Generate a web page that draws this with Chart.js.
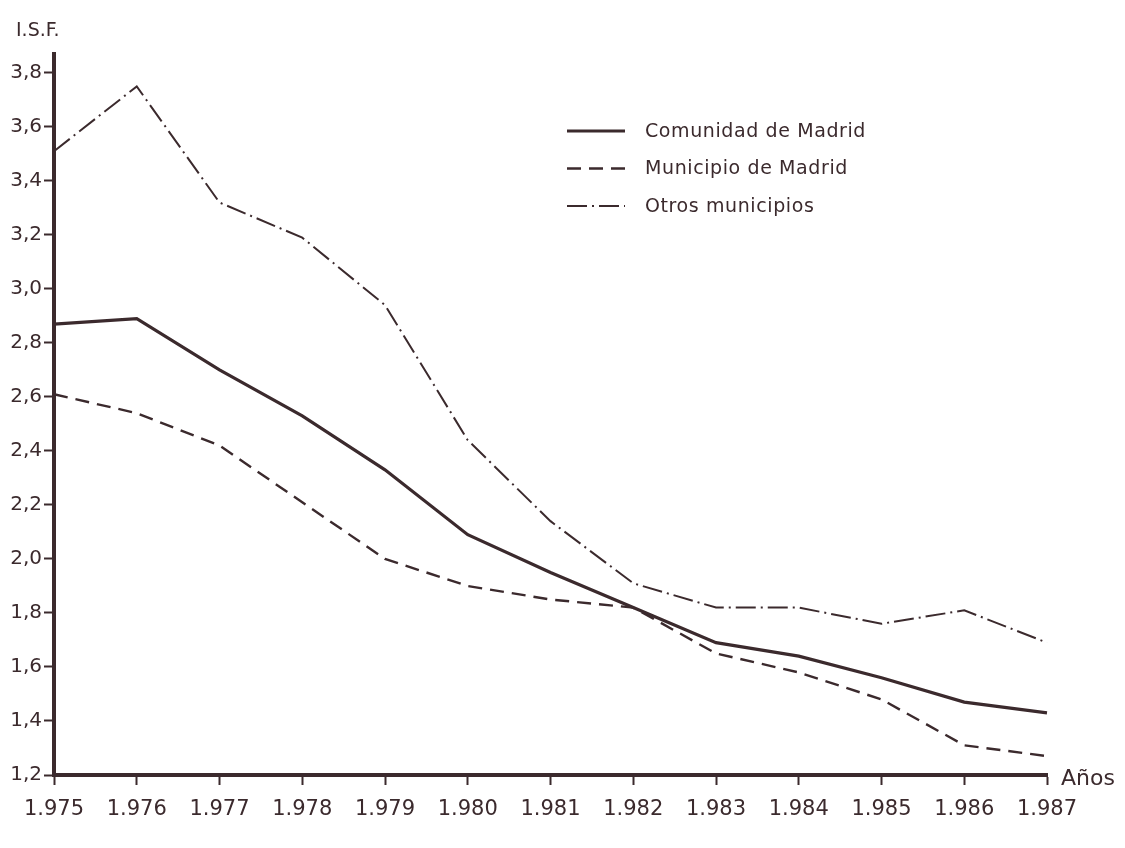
<!DOCTYPE html>
<html>
<head>
<meta charset="utf-8">
<script src="https://cdn.jsdelivr.net/npm/chart.js@4/dist/chart.umd.min.js"></script>
<style>
  html, body { margin: 0; padding: 0; background: #ffffff; }
  #wrap { width: 1125px; height: 848px; }
</style>
</head>
<body>
<div id="wrap"><canvas id="isf" width="1125" height="848"></canvas></div>
<script>
// years on the x axis (written the Spanish way)
const years = ['1.975', '1.976', '1.977', '1.978', '1.979', '1.980', '1.981',
               '1.982', '1.983', '1.984', '1.985', '1.986', '1.987'];

// I.S.F.
const comunidad = [2.87, 2.89, 2.70, 2.53, 2.33, 2.09, 1.95, 1.82, 1.69, 1.64, 1.56, 1.47, 1.43];
const municipio = [2.61, 2.54, 2.42, 2.21, 2.00, 1.90, 1.85, 1.82, 1.65, 1.58, 1.48, 1.31, 1.27];
const otros     = [3.51, 3.75, 3.32, 3.19, 2.94, 2.44, 2.14, 1.91, 1.82, 1.82, 1.76, 1.81, 1.69];

const seriesNames = ['Comunidad de Madrid', 'Municipio de Madrid', 'Otros municipios'];
const yTickValues = [1.2, 1.4, 1.6, 1.8, 2.0, 2.2, 2.4, 2.6, 2.8, 3.0, 3.2, 3.4, 3.6, 3.8];

const ink = '#3b2a2d';
const fontFam = '"DejaVu Sans", sans-serif';

// axis titles + legend, drawn by hand like on the original sheet
const extras = {
  id: 'extras',
  afterDraw(chart) {
    const ctx = chart.ctx;
    const area = chart.chartArea;
    ctx.save();
    ctx.fillStyle = ink;
    ctx.textBaseline = 'middle';
    ctx.font = '19px ' + fontFam;
    ctx.fillText('I.S.F.', 16, 31);
    ctx.font = '22px ' + fontFam;
    ctx.fillText('Años', area.right + 14, area.bottom + 4);

    // legend
    ctx.font = '19px ' + fontFam;
    ctx.letterSpacing = '0.6px';
    chart.data.datasets.forEach((ds, i) => {
      const y = 131 + i * 37.5;
      ctx.beginPath();
      ctx.setLineDash(ds.borderDash || []);
      ctx.lineWidth = ds.borderWidth;
      ctx.strokeStyle = ds.borderColor;
      ctx.moveTo(567, y);
      ctx.lineTo(625, y);
      ctx.stroke();
      ctx.setLineDash([]);
      ctx.fillText(ds.label, 645, y + 1);
    });
    ctx.restore();
  }
};

new Chart(document.getElementById('isf'), {
  type: 'line',
  data: {
    labels: years,
    datasets: [
      { label: seriesNames[0], data: comunidad, borderColor: ink, borderWidth: 3.2,
        pointRadius: 0, tension: 0 },
      { label: seriesNames[1], data: municipio, borderColor: ink, borderWidth: 2.4,
        borderDash: [14, 8], pointRadius: 0, tension: 0 },
      { label: seriesNames[2], data: otros, borderColor: ink, borderWidth: 2,
        borderDash: [20, 5, 2, 5], pointRadius: 0, tension: 0 }
    ]
  },
  options: {
    responsive: false,
    animation: false,
    layout: { padding: { top: 54, right: 78, left: 0, bottom: 0 } },
    plugins: { legend: { display: false }, tooltip: { enabled: false } },
    scales: {
      x: {
        offset: false,
        afterFit: (s) => { s.height = 73; },
        grid: { drawOnChartArea: false, drawTicks: true, tickLength: 10, tickColor: ink, tickWidth: 2 },
        border: { display: true, color: ink, width: 4 },
        ticks: { color: ink, font: { family: fontFam, size: 21 }, padding: 12,
                 maxRotation: 0, autoSkip: false }
      },
      y: {
        min: 1.2,
        max: 3.87,
        afterFit: (s) => { s.width = 54; },
        afterBuildTicks: (s) => { s.ticks = yTickValues.map(v => ({ value: v })); },
        grid: { drawOnChartArea: false, drawTicks: true, tickLength: 10, tickColor: ink, tickWidth: 2 },
        border: { display: true, color: ink, width: 4 },
        ticks: { color: ink, font: { family: fontFam, size: 20 }, padding: 2,
                 callback: (v) => Number(v).toFixed(1).replace('.', ',') }
      }
    }
  },
  plugins: [extras]
});
</script>
</body>
</html>
